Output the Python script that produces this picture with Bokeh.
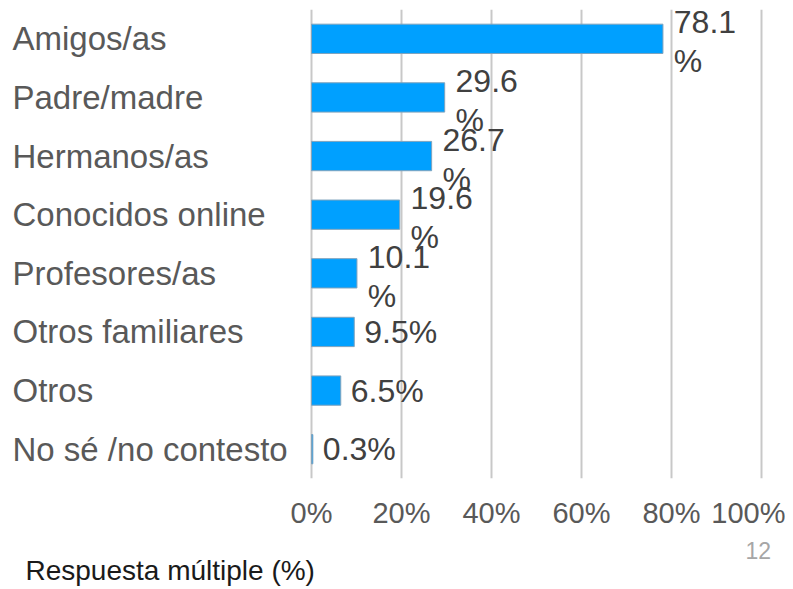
from bokeh.plotting import figure
from bokeh.layouts import column
from bokeh.models import ColumnDataSource, FactorRange, Range1d, FixedTicker, LabelSet, Label
from bokeh.core.properties import value
from bokeh.embed import file_html
from bokeh.resources import INLINE

categories = ["Amigos/as", "Padre/madre", "Hermanos/as", "Conocidos online",
              "Profesores/as", "Otros familiares", "Otros", "No sé /no contesto"]
values = [78.1, 29.6, 26.7, 19.6, 10.1, 9.5, 6.5, 0.3]
tick_values = [0, 20, 40, 60, 80, 100]
tick_labels = ["0%", "20%", "40%", "60%", "80%", "100%"]
page_number = "12"
footnote = "Respuesta múltiple (%)"

FONT = "Liberation Sans"
W = 785
PX_PER_UNIT = 4.5      # 450 px for 0..100 %
ZERO_PX = 311          # x position of 0 %

p = figure(width=W, height=535, output_backend="svg", toolbar_location=None,
           x_range=Range1d(-ZERO_PX / PX_PER_UNIT, (W - ZERO_PX) / PX_PER_UNIT),
           y_range=FactorRange(factors=list(reversed(categories)), range_padding=0),
           y_axis_location=None,
           min_border_left=0, min_border_right=0, min_border_top=9, min_border_bottom=57)
p.outline_line_color = None
p.background_fill_color = "white"
p.border_fill_color = "white"

src = ColumnDataSource(dict(cat=categories, val=values, zero=[0] * len(values)))
p.hbar(y="cat", left=0, right="val", height=0.5, source=src,
       fill_color="#00a0ff", line_color="#7fa3bd", line_width=1)

# grid
p.ygrid.grid_line_color = None
p.xgrid.ticker = FixedTicker(ticks=tick_values)
p.xgrid.grid_line_color = "#c8c8c8"
p.xgrid.grid_line_width = 2

# x axis
p.xaxis.ticker = FixedTicker(ticks=tick_values)
p.xaxis.major_label_overrides = {v: l for v, l in zip(tick_values, tick_labels)}
p.xaxis.axis_line_color = None
p.xaxis.major_tick_line_color = None
p.xaxis.minor_tick_line_color = None
p.xaxis.major_label_standoff = 12
p.xaxis.major_label_text_font = FONT
p.xaxis.major_label_text_font_size = "29px"
p.xaxis.major_label_text_color = "#595959"

# category labels (left aligned)
p.add_layout(LabelSet(x="zero", y="cat", text="cat", source=src, x_offset=-299,
                      text_align="left", text_baseline="middle", level="overlay",
                      text_font=value(FONT), text_font_size=value("33px"),
                      text_color="#595959"))

# value labels
wrapped = [i for i, v in enumerate(values) if v >= 10]
single = [i for i, v in enumerate(values) if v < 10]
src_w = ColumnDataSource(dict(cat=[categories[i] for i in wrapped],
                              val=[values[i] for i in wrapped],
                              txt=[f"{values[i]}\n%" for i in wrapped]))
src_s = ColumnDataSource(dict(cat=[categories[i] for i in single],
                              val=[values[i] for i in single],
                              txt=[f"{values[i]}%" for i in single]))
p.add_layout(LabelSet(x="val", y="cat", text="txt", source=src_w, x_offset=42, y_offset=-3,
                      text_align="center", text_baseline="middle", text_line_height=1.08,
                      level="overlay",
                      text_font=value(FONT), text_font_size=value("32px"),
                      text_color="#404040"))
p.add_layout(LabelSet(x="val", y="cat", text="txt", source=src_s, x_offset=10,
                      text_align="left", text_baseline="middle", level="overlay",
                      text_font=value(FONT), text_font_size=value("32px"),
                      text_color="#404040"))

# footer
FH = 51
q = figure(width=W, height=FH, output_backend="svg", toolbar_location=None,
           x_range=Range1d(0, W), y_range=Range1d(0, FH),
           x_axis_location=None, y_axis_location=None,
           min_border_left=0, min_border_right=0, min_border_top=0, min_border_bottom=0)
q.outline_line_color = None
q.grid.visible = False
q.add_layout(Label(x=745, y=FH - 15, x_units="screen", y_units="screen", text=page_number,
                   text_align="left", text_baseline="middle",
                   text_font=FONT, text_font_size="23px", text_color="#a6a6a6"))
q.add_layout(Label(x=25, y=FH - 35, x_units="screen", y_units="screen", text=footnote,
                   text_align="left", text_baseline="middle",
                   text_font=FONT, text_font_size="28px", text_color="#1a1a1a"))

open("out.html", "w").write(file_html(column(p, q, spacing=0), INLINE))
